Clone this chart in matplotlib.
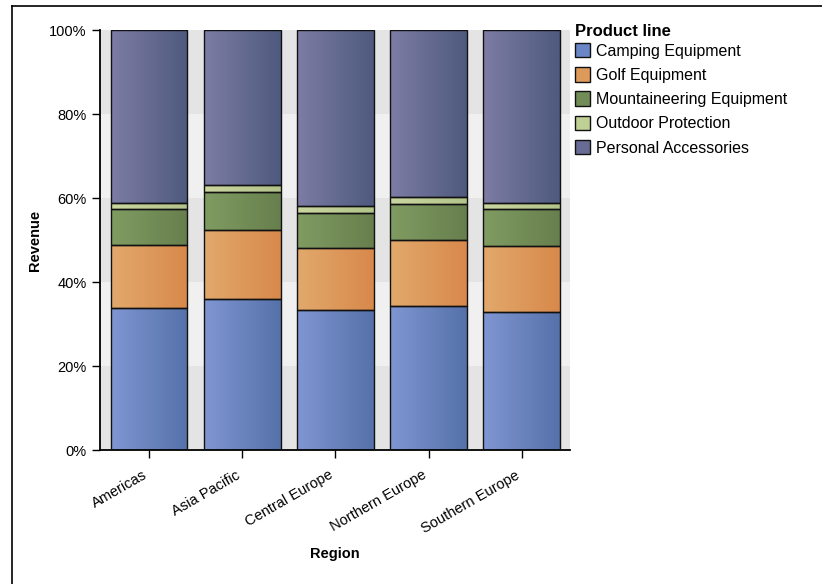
import numpy as np
import matplotlib
matplotlib.use("Agg")
import matplotlib.pyplot as plt
from matplotlib.patches import Patch
from matplotlib.lines import Line2D
from matplotlib.ticker import PercentFormatter

plt.rcParams["font.family"] = ["Liberation Sans", "DejaVu Sans"]

regions = ["Americas", "Asia Pacific", "Central Europe", "Northern Europe", "Southern Europe"]
product_lines = [
    "Camping Equipment",
    "Golf Equipment",
    "Mountaineering Equipment",
    "Outdoor Protection",
    "Personal Accessories",
]
# share of revenue (%) per region
camping = [33.7, 36.0, 33.3, 34.4, 32.8]
golf = [15.2, 16.3, 14.8, 15.6, 15.7]
mountaineering = [8.4, 9.1, 8.4, 8.6, 8.9]
outdoor = [1.4, 1.6, 1.6, 1.7, 1.3]
personal = [41.3, 37.0, 41.9, 39.7, 41.3]
y_ticks = [0, 20, 40, 60, 80, 100]

# left / right colours of each gradient fill, plus a flat colour for the legend
grad_left = ["#7f96d2", "#e2a96c", "#809c62", "#cad6a0", "#7d7ca4"]
grad_right = ["#5672aa", "#d8894b", "#677f4d", "#b3c48a", "#4e5a7e"]
legend_colors = ["#6a86c6", "#dd9a5b", "#718c57", "#c0cf95", "#686c94"]


def gradient_image(c_left, c_right, n=64):
    a = np.array(matplotlib.colors.to_rgb(c_left))
    b = np.array(matplotlib.colors.to_rgb(c_right))
    t = np.linspace(0, 1, n)[:, None]
    return (a + (b - a) * t)[None, :, :]


def main():
    series = [camping, golf, mountaineering, outdoor, personal]
    fig = plt.figure(figsize=(8.22, 5.84), dpi=100)
    ax = fig.add_axes([100 / 822, 1 - 450 / 584, 470 / 822, 420 / 584])

    # alternating horizontal bands behind the bars
    for i in range(len(y_ticks) - 1):
        col = "#e4e4e4" if i % 2 == 0 else "#f0f0f0"
        ax.axhspan(y_ticks[i], y_ticks[i + 1], color=col, zorder=0, lw=0)

    x = np.arange(len(regions))
    width = 0.82
    bottom = np.zeros(len(regions))
    for k, vals in enumerate(series):
        vals = np.array(vals, dtype=float)
        img = gradient_image(grad_left[k], grad_right[k])
        for xi, b, v in zip(x, bottom, vals):
            ax.imshow(img, extent=(xi - width / 2, xi + width / 2, b, b + v),
                      aspect="auto", interpolation="bilinear", zorder=2)
        ax.bar(x, vals, width, bottom=bottom, facecolor="none",
               edgecolor="#111111", linewidth=1.0, zorder=3)
        bottom += vals

    ax.set_xlim(-0.53, len(regions) - 0.48)
    ax.set_ylim(0, 100)
    ax.set_yticks(y_ticks)
    ax.yaxis.set_major_formatter(PercentFormatter(decimals=0))
    ax.set_xticks(x)
    ax.set_xticklabels(regions, rotation=30, ha="right", fontsize=10.5)
    ax.tick_params(axis="y", labelsize=10.5, length=6, width=1.0, color="black")
    ax.tick_params(axis="x", length=6, width=1.0, color="black", pad=7)

    for s in ["top", "right"]:
        ax.spines[s].set_visible(False)
    for s in ["left", "bottom"]:
        ax.spines[s].set_linewidth(1.3)
        ax.spines[s].set_color("black")

    ax.set_ylabel("Revenue", fontsize=10.5, fontweight="bold", labelpad=5)
    ax.set_xlabel("Region", fontsize=10.5, fontweight="bold", labelpad=8)

    handles = [Patch(facecolor=c, edgecolor="#111111", linewidth=1.0) for c in legend_colors]
    ax.legend(handles, product_lines,
              loc="upper left", bbox_to_anchor=(575 / 822, 1 - 43 / 584),
              bbox_transform=fig.transFigure, frameon=False, fontsize=11.5,
              handlelength=0.95, handleheight=1.0,
              handletextpad=0.35, labelspacing=0.54, borderpad=0, borderaxespad=0)
    fig.text(575 / 822, 1 - 32 / 584, "Product line", fontsize=12, fontweight="bold",
             ha="left", va="center")

    # thin frame along the left and top of the picture
    fig.add_artist(Line2D([11.5 / 822, 11.5 / 822], [0, 1 - 6 / 584], color="black", lw=1.2))
    fig.add_artist(Line2D([11.5 / 822, 1], [1 - 6 / 584, 1 - 6 / 584], color="black", lw=1.2))

    fig.savefig("out.png", dpi=100)


if __name__ == "__main__":
    main()
